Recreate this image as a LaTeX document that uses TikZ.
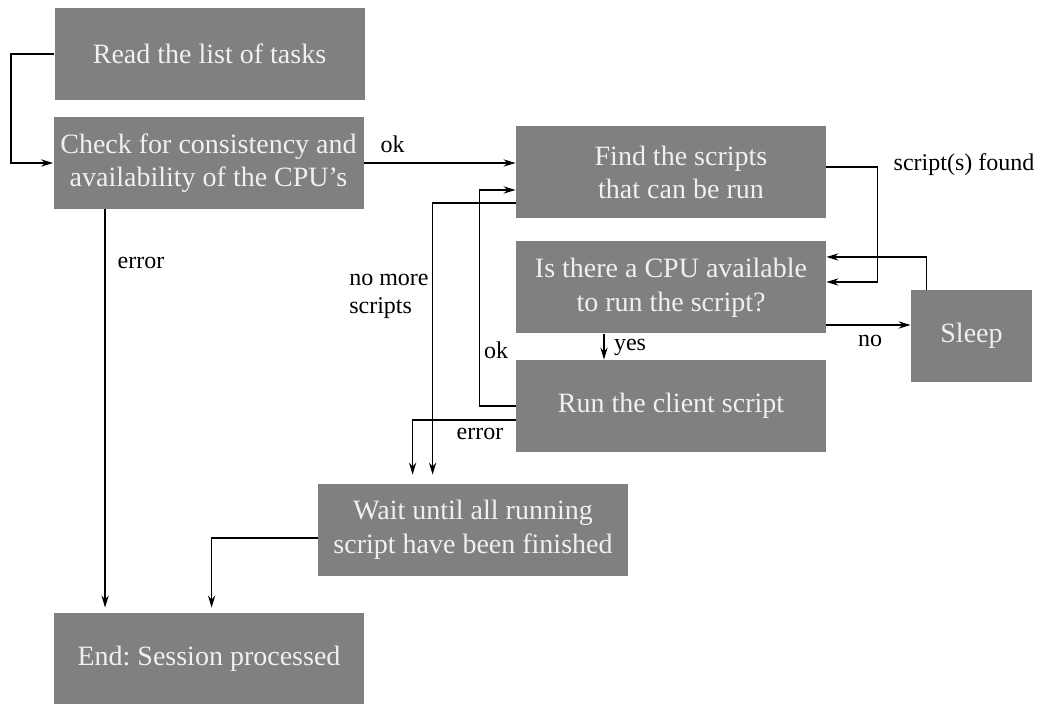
\documentclass[tikz,border=0pt]{standalone}
\usepackage{fontspec}
\setmainfont{Liberation Serif}
\frenchspacing
\usetikzlibrary{arrows.meta,calc}
\definecolor{boxgray}{RGB}{128,128,128}
\definecolor{boxtext}{RGB}{240,240,240}
\tikzset{
  stepbox/.style={fill=boxgray, text=boxtext, minimum width=155pt, minimum height=46pt,
    inner sep=2pt, align=center, font=\fontsize{14}{16.8}\selectfont},
  flow/.style={draw=black, line width=0.7pt, -{Stealth[length=6pt,width=3.6pt]}},
  lbl/.style={font=\fontsize{12}{14}\selectfont, inner sep=0pt}
}
\begin{document}
\begin{tikzpicture}[x=0.5pt,y=-0.5pt]
\useasboundingbox (0,0) rectangle (1045,704);

% process boxes
\node[stepbox] (read)  at (209.5,54)  {Read the list of tasks};
\node[stepbox] (check) at (208.5,163) {Check for consistency and\\availability of the CPU's};
\node[stepbox] (find)  at (671,172.5) {\hspace*{10pt}Find the scripts\\\hspace*{10pt}that can be run};
\node[stepbox] (cpu)   at (671,287.5) {Is there a CPU available\\to run the script?};
\node[stepbox] (run)   at (671,406)   {Run the client script};
\node[stepbox, minimum width=60.5pt] (sleep) at (971.5,336) {Sleep};
\node[stepbox] (wait)  at (473,530)   {Wait until all running\\script have been finished};
\node[stepbox] (end)   at (209,659)   {End: Session processed};

% bend and end points of the connectors
\coordinate (okin)  at ($(find.west)+(0,17.5)$);
\coordinate (nmout) at ($(find.west)+(0,30.5)$);
\coordinate (sfout) at ($(find.east)+(0,-5.5)$);
\coordinate (sfin)  at ($(cpu.east)+(0,-5.5)$);
\coordinate (slin)  at ($(cpu.east)+(0,-30.5)$);
\coordinate (noout) at ($(cpu.east)+(0,37.5)$);
\coordinate (yesout) at ($(cpu.south)+(-67,0)$);
\coordinate (errout) at ($(run.west)+(0,14)$);
\coordinate (nmin)  at ($(wait.north west)+(115,-9)$);
\coordinate (errin) at ($(wait.north west)+(95,-9)$);
\coordinate (waitout) at ($(wait.west)+(0,8)$);
\coordinate (endin) at ($(end.north west)+(158,-5)$);
\coordinate (chkout) at ($(check.south west)+(52,0)$);

% connectors
\draw[flow] (read.west) -- ++(-43,0) |- (check.west);
\draw[flow] (check.east) -- (check.east -| find.west)
  node[lbl, pos=0.19, above=5pt] {ok};
\draw[flow] (chkout) -- (chkout |- endin);
\node[lbl] at (141,263) {error};
\draw[flow] (sfout) -- ++(51,0) |- (sfin);
\node[lbl] at (964,165) {script(s) found};
\draw[flow] ($(sleep.north west)+(16,0)$) |- (slin);
\draw[flow] (noout) -- (noout -| sleep.west);
\node[lbl] at (870,341) {no};
\draw[flow] (yesout) -- (yesout |- run.north);
\node[lbl] at (630,347) {yes};
\draw[flow] (run.west) -- ++(-36,0) |- (okin);
\node[lbl] at (496,350) {ok};
\draw[flow] (nmout) -| (nmin);
\node[lbl, align=left, anchor=east] at (429,296) {no more\\scripts};
\draw[flow] (errout) -| (errin);
\node[lbl] at (480,434) {error};
\draw[flow] (waitout) -| (endin);
\end{tikzpicture}
\end{document}
